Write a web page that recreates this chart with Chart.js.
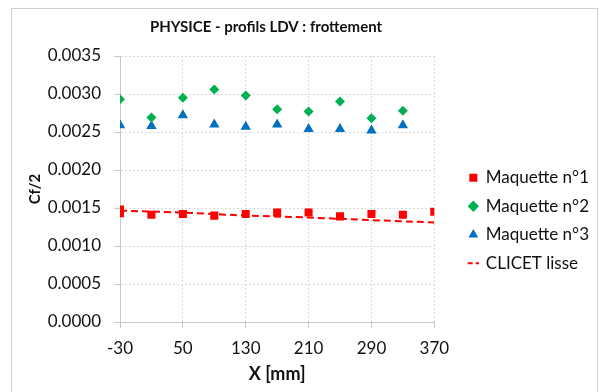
<!DOCTYPE html>
<html>
<head>
<meta charset="utf-8">
<script src="https://cdn.jsdelivr.net/npm/chart.js@4.4.1/dist/chart.umd.min.js"></script>
<style>
  html, body { margin: 0; padding: 0; background: #fff; }
  #wrap { position: relative; width: 599px; height: 392px; overflow: hidden; }
  #frame { position: absolute; left: 11px; top: 8px; width: 585px; height: 400px; border: 1px solid #cfcfcf; }
  #chart { position: absolute; left: 0; top: 0; }
</style>
</head>
<body>
<div id="wrap">
  <div id="frame"></div>
  <canvas id="chart" width="599" height="392"></canvas>
</div>
<script>
const TITLE = 'PHYSICE - profils LDV : frottement';
const FONT = 'Lato';

// X positions [mm]
const xMaq1 = [-30, -30, 10, 50, 90, 130, 170, 210, 250, 290, 330, 370];
const xMaq = [-30, 10, 50, 90, 130, 170, 210, 250, 290, 330];
const xClicet = [-30, 50, 130, 210, 290, 370];

// Cf/2 values
const cfMaq1 = [0.00148, 0.00143, 0.00141, 0.00142, 0.00140, 0.00142, 0.00144, 0.00144, 0.00139, 0.00142, 0.00141, 0.00145];
const cfMaq2 = [0.00293, 0.00269, 0.00295, 0.00306, 0.00298, 0.00280, 0.00277, 0.00290, 0.00268, 0.00278];
const cfMaq3 = [0.00259, 0.00258, 0.00272, 0.00260, 0.00257, 0.00260, 0.00254, 0.00254, 0.00252, 0.00259];
const cfClicet = [0.001465, 0.00144, 0.00140, 0.001375, 0.00134, 0.00131];

const labels = ['Maquette n°1', 'Maquette n°2', 'Maquette n°3', 'CLICET lisse'];

function pts(xs, ys) {
  return xs.map((x, i) => ({ x: x, y: ys[i] }));
}

// legend sits at a fixed left edge, so work out how much room is left on its right
const legendPad = 11.5;
const legendBox = 8;
const fontSize = 17;
const mctx = document.createElement('canvas').getContext('2d');
mctx.font = fontSize + 'px ' + FONT;
const textW = Math.max(...labels.map(l => mctx.measureText(l).width));
const legendWidth = 2 * legendPad + legendBox + fontSize / 2 + textW;
const legendLeft = 456.5;
const padRight = Math.max(0, 599 - legendLeft - legendWidth);

const titlePlugin = {
  id: 'chartTitle',
  afterDraw(chart) {
    const ctx = chart.ctx;
    ctx.save();
    ctx.font = 'bold 15px ' + FONT;
    ctx.fillStyle = '#111';
    ctx.textAlign = 'center';
    ctx.textBaseline = 'alphabetic';
    ctx.fillText(TITLE, 266, 32);
    ctx.restore();
  }
};

const ctx = document.getElementById('chart').getContext('2d');
new Chart(ctx, {
  type: 'scatter',
  data: {
    datasets: [
      {
        label: labels[0],
        data: pts(xMaq1, cfMaq1),
        pointStyle: 'rect',
        pointRadius: 5.7,
        backgroundColor: '#ff0000',
        borderColor: '#ff0000',
        borderWidth: 0
      },
      {
        label: labels[1],
        data: pts(xMaq, cfMaq2),
        pointStyle: 'rectRot',
        pointRadius: 5,
        backgroundColor: '#00b050',
        borderColor: '#00b050',
        borderWidth: 0
      },
      {
        label: labels[2],
        data: pts(xMaq, cfMaq3),
        pointStyle: 'triangle',
        pointRadius: 6,
        backgroundColor: '#0070c0',
        borderColor: '#0070c0',
        borderWidth: 0
      },
      {
        label: labels[3],
        type: 'line',
        data: pts(xClicet, cfClicet),
        showLine: true,
        fill: false,
        borderColor: '#ff0000',
        backgroundColor: '#ff0000',
        borderWidth: 2,
        borderDash: [7, 4],
        pointRadius: 0,
        pointStyle: 'line',
        tension: 0
      }
    ]
  },
  options: {
    responsive: false,
    animation: false,
    layout: { padding: { left: 26, top: 56, right: padRight, bottom: 7 } },
    scales: {
      x: {
        type: 'linear',
        min: -30,
        max: 370,
        afterFit: s => { s.height = 63; },
        ticks: { stepSize: 80, color: '#111', font: { family: FONT, size: fontSize }, padding: 10, maxRotation: 0 },
        grid: { color: '#d9d9d9', tickLength: 6, tickColor: '#c8c8c8' },
        border: { color: '#c8c8c8', dash: [2, 2] },
        title: { display: true, text: 'X [mm]', color: '#111', font: { family: FONT, size: 18, weight: 'bold' }, padding: 0 }
      },
      y: {
        min: 0,
        max: 0.0035,
        afterFit: s => { s.width = 94; },
        ticks: { stepSize: 0.0005, color: '#111', font: { family: FONT, size: fontSize }, padding: 13, callback: v => v.toFixed(4) },
        grid: { color: '#d9d9d9', tickLength: 6, tickColor: '#c8c8c8' },
        border: { color: '#c8c8c8', dash: [2, 2] },
        title: { display: true, text: 'Cf/2', color: '#111', font: { family: FONT, size: 15, weight: 'bold' }, padding: 0 }
      },
      gap: {
        type: 'linear',
        position: 'right',
        display: true,
        afterFit: s => { s.width = 23.5; },
        ticks: { display: false },
        grid: { display: false },
        border: { display: false }
      }
    },
    plugins: {
      title: { display: false },
      tooltip: { enabled: false },
      legend: {
        position: 'right',
        align: 'center',
        maxWidth: 300,
        labels: {
          usePointStyle: true,
          boxWidth: legendBox,
          boxHeight: legendBox,
          padding: legendPad,
          color: '#111',
          font: { family: FONT, size: fontSize },
          generateLabels: chart => {
            const items = Chart.defaults.plugins.legend.labels.generateLabels(chart);
            items[3].lineDash = [5, 3];
            items[3].lineWidth = 2;
            items[3].strokeStyle = '#ff0000';
            return items;
          }
        }
      }
    }
  },
  plugins: [titlePlugin]
});
</script>
</body>
</html>
